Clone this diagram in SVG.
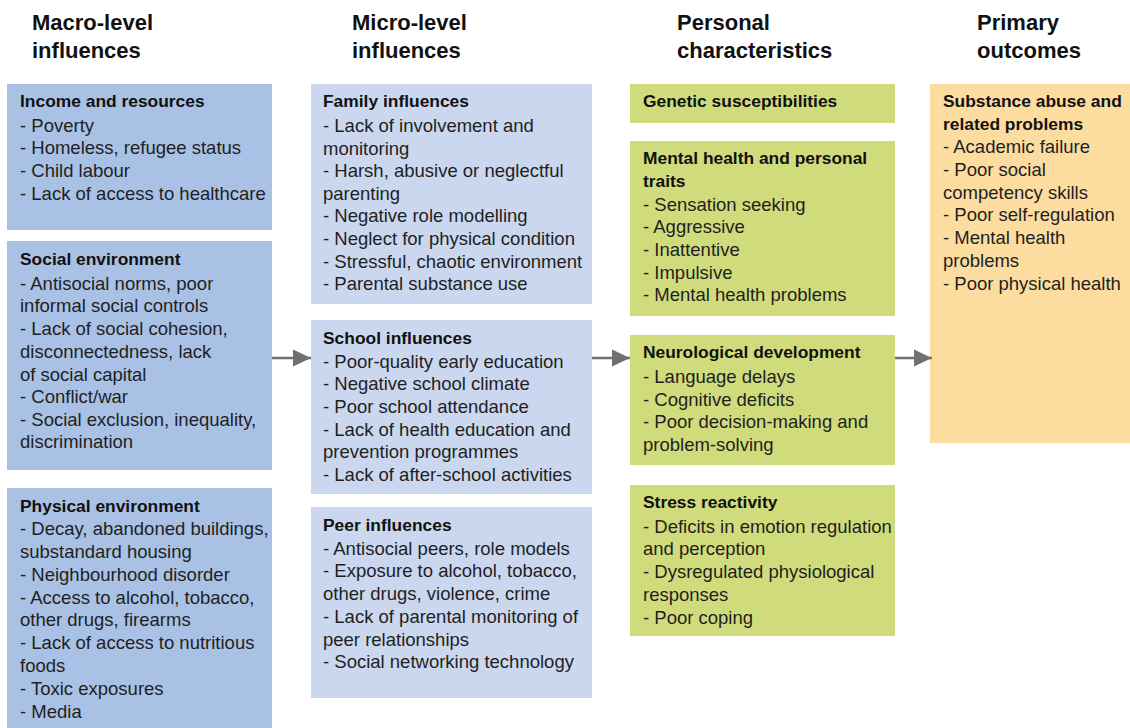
<svg xmlns="http://www.w3.org/2000/svg" width="1130" height="728" viewBox="0 0 1130 728">
<style>
text{font-family:"Liberation Sans",Arial,sans-serif;fill:#1f1f1f}
.h{font-size:22px;font-weight:bold;fill:#111}
.t{font-size:17.4px;font-weight:bold;fill:#111}
.i{font-size:18.5px}
.macro{fill:#a9c1e4}
.micro{fill:#cad7ee}
.pers{fill:#d0dc7c}
.out{fill:#fddca0}
.conn{stroke:#707070;stroke-width:2.5;fill:none}
</style>
<defs>
<marker id="ah" markerUnits="userSpaceOnUse" markerWidth="18" markerHeight="18" refX="18" refY="9" orient="auto">
<path d="M0,0.5 L18,9 L0,17.5 z" fill="#707070"/>
</marker>
</defs>
<g id="headers">
<text class="h" x="32" y="30">Macro-level</text>
<text class="h" x="32" y="58">influences</text>
<text class="h" x="352" y="30">Micro-level</text>
<text class="h" x="352" y="58">influences</text>
<text class="h" x="677" y="30">Personal</text>
<text class="h" x="677" y="58">characteristics</text>
<text class="h" x="977" y="30">Primary</text>
<text class="h" x="977" y="58">outcomes</text>
</g>
<g id="income">
<rect class="macro" x="7" y="84" width="265" height="146"/>
<text class="t" x="20" y="107">Income and resources</text>
<text class="i" x="20" y="132">- Poverty</text>
<text class="i" x="20" y="154">- Homeless, refugee status</text>
<text class="i" x="20" y="177">- Child labour</text>
<text class="i" x="20" y="200">- Lack of access to healthcare</text>
</g>
<g id="social">
<rect class="macro" x="7" y="241" width="265" height="229"/>
<text class="t" x="20" y="265">Social environment</text>
<text class="i" x="20" y="290">- Antisocial norms, poor</text>
<text class="i" x="20" y="312">informal social controls</text>
<text class="i" x="20" y="335">- Lack of social cohesion,</text>
<text class="i" x="20" y="358">disconnectedness, lack</text>
<text class="i" x="20" y="381">of social capital</text>
<text class="i" x="20" y="403">- Conflict/war</text>
<text class="i" x="20" y="426">- Social exclusion, inequality,</text>
<text class="i" x="20" y="448">discrimination</text>
</g>
<g id="physical">
<rect class="macro" x="7" y="488" width="265" height="240"/>
<text class="t" x="20" y="512">Physical environment</text>
<text class="i" x="20" y="535">- Decay, abandoned buildings,</text>
<text class="i" x="20" y="558">substandard housing</text>
<text class="i" x="20" y="581">- Neighbourhood disorder</text>
<text class="i" x="20" y="604">- Access to alcohol, tobacco,</text>
<text class="i" x="20" y="626">other drugs, firearms</text>
<text class="i" x="20" y="649">- Lack of access to nutritious</text>
<text class="i" x="20" y="672">foods</text>
<text class="i" x="20" y="695">- Toxic exposures</text>
<text class="i" x="20" y="718">- Media</text>
</g>
<g id="family">
<rect class="micro" x="311" y="84" width="281" height="220"/>
<text class="t" x="323" y="107">Family influences</text>
<text class="i" x="323" y="132">- Lack of involvement and</text>
<text class="i" x="323" y="155">monitoring</text>
<text class="i" x="323" y="177">- Harsh, abusive or neglectful</text>
<text class="i" x="323" y="200">parenting</text>
<text class="i" x="323" y="222">- Negative role modelling</text>
<text class="i" x="323" y="245">- Neglect for physical condition</text>
<text class="i" x="323" y="268">- Stressful, chaotic environment</text>
<text class="i" x="323" y="290">- Parental substance use</text>
</g>
<g id="school">
<rect class="micro" x="311" y="320" width="281" height="174"/>
<text class="t" x="323" y="344">School influences</text>
<text class="i" x="323" y="368">- Poor-quality early education</text>
<text class="i" x="323" y="390">- Negative school climate</text>
<text class="i" x="323" y="413">- Poor school attendance</text>
<text class="i" x="323" y="436">- Lack of health education and</text>
<text class="i" x="323" y="458">prevention programmes</text>
<text class="i" x="323" y="481">- Lack of after-school activities</text>
</g>
<g id="peer">
<rect class="micro" x="311" y="507" width="281" height="191"/>
<text class="t" x="323" y="531">Peer influences</text>
<text class="i" x="323" y="555">- Antisocial peers, role models</text>
<text class="i" x="323" y="577">- Exposure to alcohol, tobacco,</text>
<text class="i" x="323" y="600">other drugs, violence, crime</text>
<text class="i" x="323" y="623">- Lack of parental monitoring of</text>
<text class="i" x="323" y="646">peer relationships</text>
<text class="i" x="323" y="668">- Social networking technology</text>
</g>
<g id="genetic">
<rect class="pers" x="630" y="84" width="265" height="39"/>
<text class="t" x="643" y="107">Genetic susceptibilities</text>
</g>
<g id="mental">
<rect class="pers" x="630" y="141" width="265" height="175"/>
<text class="t" x="643" y="164">Mental health and personal</text>
<text class="t" x="643" y="187">traits</text>
<text class="i" x="643" y="211">- Sensation seeking</text>
<text class="i" x="643" y="233">- Aggressive</text>
<text class="i" x="643" y="256">- Inattentive</text>
<text class="i" x="643" y="279">- Impulsive</text>
<text class="i" x="643" y="301">- Mental health problems</text>
</g>
<g id="neuro">
<rect class="pers" x="630" y="335" width="265" height="130"/>
<text class="t" x="643" y="358">Neurological development</text>
<text class="i" x="643" y="383">- Language delays</text>
<text class="i" x="643" y="406">- Cognitive deficits</text>
<text class="i" x="643" y="428">- Poor decision-making and</text>
<text class="i" x="643" y="451">problem-solving</text>
</g>
<g id="stress">
<rect class="pers" x="630" y="485" width="265" height="151"/>
<text class="t" x="643" y="508">Stress reactivity</text>
<text class="i" x="643" y="533">- Deficits in emotion regulation</text>
<text class="i" x="643" y="555">and perception</text>
<text class="i" x="643" y="578">- Dysregulated physiological</text>
<text class="i" x="643" y="601">responses</text>
<text class="i" x="643" y="624">- Poor coping</text>
</g>
<g id="outcomes">
<rect class="out" x="930" y="84" width="200" height="359"/>
<text class="t" x="943" y="107">Substance abuse and</text>
<text class="t" x="943" y="130">related problems</text>
<text class="i" x="943" y="153">- Academic failure</text>
<text class="i" x="943" y="176">- Poor social</text>
<text class="i" x="943" y="199">competency skills</text>
<text class="i" x="943" y="221">- Poor self-regulation</text>
<text class="i" x="943" y="244">- Mental health</text>
<text class="i" x="943" y="267">problems</text>
<text class="i" x="943" y="290">- Poor physical health</text>
</g>
<g id="connectors">
<line class="conn" x1="272" y1="358" x2="311" y2="358" marker-end="url(#ah)"/>
<line class="conn" x1="592" y1="358" x2="630" y2="358" marker-end="url(#ah)"/>
<line class="conn" x1="895" y1="358" x2="932" y2="358" marker-end="url(#ah)"/>
</g>
</svg>
